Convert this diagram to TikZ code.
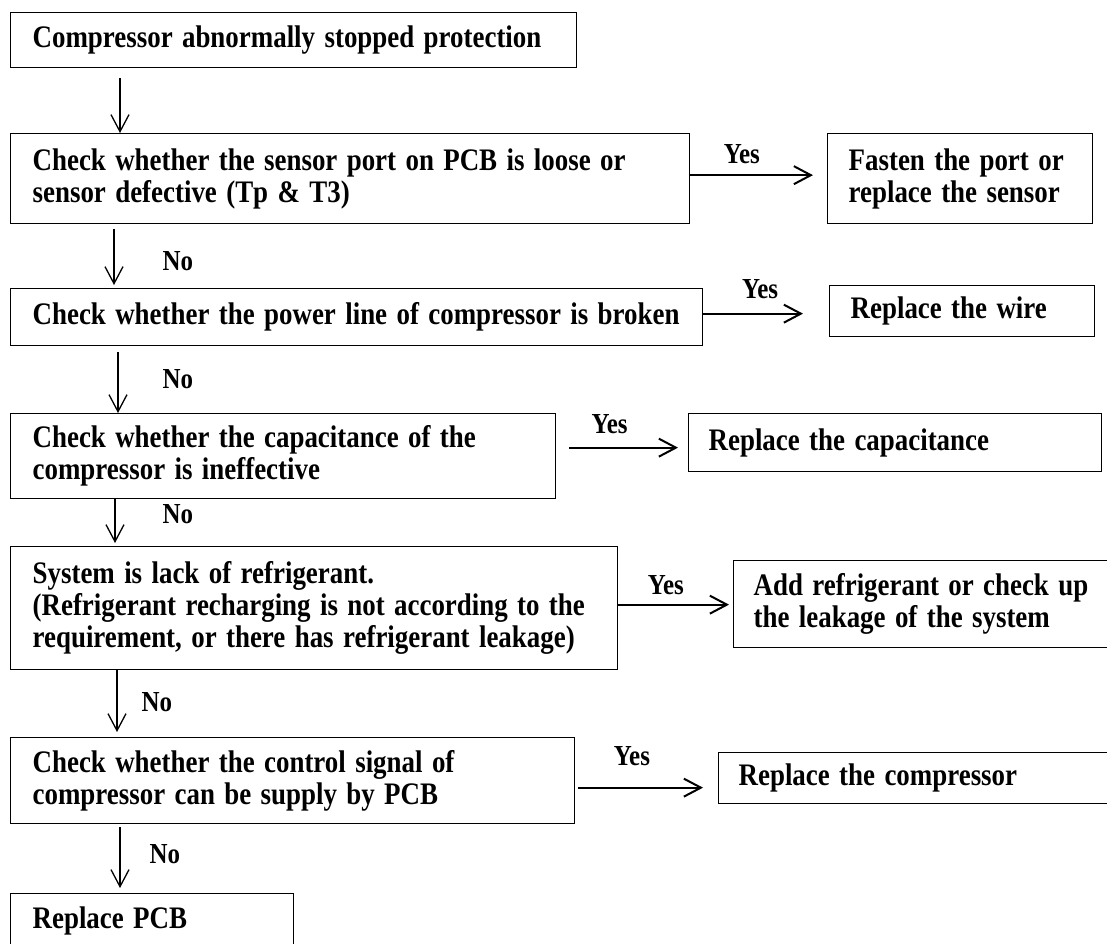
\documentclass[tikz,border=0pt]{standalone}
\usepackage{fontspec}
\setmainfont{Liberation Serif}[FakeStretch=0.86]
\usetikzlibrary{arrows.meta}
\hyphenpenalty=10000
\exhyphenpenalty=10000

\tikzset{
  box/.style={draw, line width=1.3pt, anchor=north west, align=left,
    inner xsep=22pt, inner ysep=0pt,
    font=\fontsize{31.3}{32}\selectfont\bfseries,
    execute at begin node={\spaceskip=0.3em plus 0.05em minus 0.03em\relax}},
  lbl/.style={inner sep=0pt, font=\fontsize{29}{30}\selectfont\bfseries},
  downarr/.style={line width=1.3pt,
    -{Straight Barb[length=17pt,width=18pt]}},
  yesarr/.style={line width=2pt,
    -{Straight Barb[length=17pt,width=18pt]}}
}

\begin{document}
\begin{tikzpicture}[x=1pt,y=-1pt]
\useasboundingbox (0,0) rectangle (1107,943);
\clip (0,0) rectangle (1107,943);

% main column of checks
\node[box, text width=522pt, minimum height=55pt] (b1) at (10,12)
  {Compressor abnormally stopped protection};
\node[box, text width=635pt, minimum height=90pt] (b2) at (10,133)
  {Check whether the sensor port on PCB is loose or\\sensor defective (Tp \& T3)};
\node[box, text width=648pt, minimum height=57pt] (b3) at (10,288)
  {\mbox{Check whether the power line of compressor is broken}};
\node[box, text width=501pt, minimum height=85pt] (b4) at (10,413)
  {Check whether the capacitance of the\\compressor is ineffective};
\node[box, text width=563pt, minimum height=123pt] (b5) at (10,546)
  {System is lack of refrigerant.\\\mbox{(Refrigerant recharging is not according to the}\\\mbox{requirement, or there has refrigerant leakage)}};
\node[box, text width=520pt, minimum height=86pt] (b6) at (10,737)
  {Check whether the control signal of\\compressor can be supply by PCB};
\node[box, text width=239pt, minimum height=54pt] (b7) at (10,893)
  {Replace PCB};

% remedies on the right
\node[box, text width=223pt, minimum height=90pt, inner xsep=21pt] (f1) at (827,133)
  {\mbox{Fasten the port or}\\\mbox{replace the sensor}};
\node[box, text width=223pt, minimum height=51pt, inner xsep=21pt] (f2) at (829,285)
  {Replace the wire};
\node[box, text width=373pt, minimum height=58pt, inner xsep=20pt] (f3) at (688,413)
  {Replace the capacitance};
\node[box, text width=360pt, minimum height=87pt, inner xsep=20pt] (f4) at (733,560)
  {Add refrigerant or check up\\the leakage of the system};
\node[box, text width=360pt, minimum height=51pt, inner xsep=20pt] (f5) at (718,752)
  {Replace the compressor};

% "No" branches
\draw[downarr] ([shift={(110,10)}]b1.south west) -- ([shift={(110,0)}]b1.south west |- b2.north);
\draw[downarr] ([shift={(104,5)}]b2.south west) -- ([shift={(104,-3)}]b2.south west |- b3.north)
  node[lbl, pos=.57, right=48pt] (n1) {No};
\draw[downarr] ([shift={(108,6)}]b3.south west) -- ([shift={(108,0)}]b3.south west |- b4.north)
  node[lbl, pos=.44, right=44pt] (n2) {No};
\draw[downarr] ([shift={(105,0)}]b4.south west) -- ([shift={(105,-3)}]b4.south west |- b5.north)
  node[lbl, pos=.33, right=47pt] (n3) {No};
\draw[downarr] ([shift={(107,0)}]b5.south west) -- ([shift={(107,-5)}]b5.south west |- b6.north)
  node[lbl, pos=.52, right=24pt] (n4) {No};
\draw[downarr] ([shift={(110,3)}]b6.south west) -- ([shift={(110,-5)}]b6.south west |- b7.north)
  node[lbl, pos=.44, right=29pt] (n5) {No};

% "Yes" branches
\draw[yesarr] ([yshift=3.5pt]b2.east) coordinate (s1) -- ([xshift=-14pt]f1.west |- s1)
  node[lbl, pos=.42, above=10pt] (y1) {Yes};
\draw[yesarr] ([yshift=3.5pt]b3.east) coordinate (s2) -- ([xshift=-26pt]f2.west |- s2)
  node[lbl, pos=.57, above=14pt] (y2) {Yes};
\draw[yesarr] ([shift={(13,-8.5)}]b4.east) coordinate (s3) -- ([xshift=-10pt]f3.west |- s3)
  node[lbl, pos=.37, above=13pt] (y3) {Yes};
\draw[yesarr] ([yshift=3.5pt]b5.east) coordinate (s4) -- ([xshift=-4pt]f4.west |- s4)
  node[lbl, pos=.43, above=9pt] (y4) {Yes};
\draw[yesarr] ([shift={(3,7)}]b6.east) coordinate (s5) -- ([xshift=-15pt]f5.west |- s5)
  node[lbl, pos=.43, above=21pt] (y5) {Yes};
\end{tikzpicture}
\end{document}
